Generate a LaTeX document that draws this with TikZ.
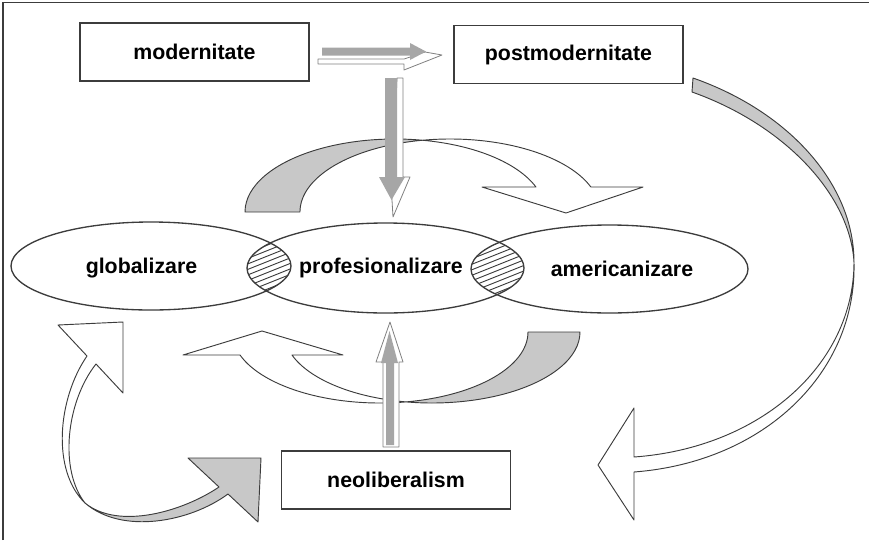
\documentclass[tikz,border=0pt]{standalone}
\usepackage{fontspec}
\setsansfont{Liberation Sans}
\usetikzlibrary{shapes.geometric}
\definecolor{backgrey}{RGB}{200,200,200}
\definecolor{shaftgrey}{RGB}{166,166,166}
\definecolor{edgegrey}{RGB}{60,60,60}
\begin{document}
\begin{tikzpicture}[x=0.75pt,y=0.75pt,yscale=-1,xscale=1,
  lbl/.style={inner sep=0.75pt, font=\sffamily\bfseries\fontsize{16}{19}\selectfont},
  box/.style={lbl, draw=edgegrey, line width=1.1pt, minimum width=171.75pt, minimum height=43.5pt},
  oval/.style={ellipse, draw=edgegrey, line width=1pt, inner sep=0pt},
  band/.style={draw=edgegrey, line width=0.7pt, line join=round},
  side/.style={fill=white, draw=gray, line width=0.6pt, line join=round},
  hatch/.style={edgegrey, line width=0.7pt}]
\useasboundingbox (0,0) rectangle (869,540);

%Frame
\draw[edgegrey, line width=1pt] (3,540) -- (3,2.5) -- (869,2.5);

%Shape: Curved Down Arrow (top)
\draw[band, fill=backgrey] (245,212) arc[start angle=180, end angle=280.56, x radius=150, y radius=73]
  arc[start angle=259.44, end angle=180, x radius=150, y radius=73] -- cycle;
\draw[band, fill=white] (422.5,140.24) arc[start angle=280.56, end angle=339.97, x radius=150, y radius=73]
  -- (482,187) -- (566,213) -- (643,187) -- (590.9,187)
  arc[start angle=339.97, end angle=259.44, x radius=150, y radius=73] -- cycle;

%Shape: Curved Up Arrow (bottom)
\draw[band, fill=backgrey] (580,332) arc[start angle=0, end angle=100.12, x radius=148, y radius=71]
  arc[start angle=79.88, end angle=0, x radius=148, y radius=71] -- cycle;
\draw[band, fill=white] (406,401.9) arc[start angle=100.12, end angle=161.1, x radius=148, y radius=71]
  -- (343,355) -- (262,331) -- (183,355) -- (240,355)
  arc[start angle=161.1, end angle=79.88, x radius=148, y radius=71] -- cycle;

%Shape: Curved Arrow (right)
\draw[band, fill=backgrey] (693,78) .. controls (790,112) and (854,185) .. (854,262)
  .. controls (850,195) and (785,125) .. (692,92) -- cycle;
\draw[band, fill=white] (854,262) .. controls (854,365) and (760,448) .. (634,457)
  -- (634,408) -- (598,465) -- (634,520) -- (634,472)
  .. controls (765,462) and (857,372) .. (854,262) -- cycle;

%Shape: Curved Arrow (left)
\draw[band, fill=white] (85,503) .. controls (51,470) and (58,398) .. (87,356)
  -- (58,325) -- (123,322) -- (123,393) -- (96,364)
  .. controls (66,402) and (59,470) .. (85,503) -- cycle;
\draw[band, fill=backgrey] (85,503) .. controls (118,530) and (182,512) .. (219,487)
  -- (188,458) -- (261,458) -- (258,522) -- (228,494)
  .. controls (190,522) and (122,535) .. (85,503) -- cycle;

%Shape: Ellipses
\node[oval, minimum width=210pt, minimum height=66pt] (glob) at (151,266) {};
\node[oval, minimum width=207.75pt, minimum height=67.5pt] (prof) at (385.5,268) {};
\node[oval, minimum width=207.75pt, minimum height=66pt] (amer) at (609.5,269) {};

%Hatch: overlaps
\begin{scope}
  \clip (151,266) ellipse [x radius=140, y radius=44];
  \clip (385.5,268) ellipse [x radius=138.5, y radius=45];
  \foreach \k in {0,...,18}
    \draw[hatch] (235,236+5.5*\k) -- ++(70,-28);
\end{scope}
\begin{scope}
  \clip (385.5,268) ellipse [x radius=138.5, y radius=45];
  \clip (609.5,269) ellipse [x radius=138.5, y radius=44];
  \foreach \k in {0,...,19}
    \draw[hatch] (460,236+5.5*\k) -- ++(75,-30);
\end{scope}

% Text Node
\node[lbl] (globtext) at (141.5,268) {globalizare};
\node[lbl] (proftext) at (381,268) {profesionalizare};
\node[lbl] (amertext) at (622,269) {americanizare};

%Shape: Rectangles
\node[box] (modern) at (194.5,52) {modernitate};
\node[box] (postmod) at (568.5,54.5) {postmodernitate};
\node[box] (neolib) at (396,480) {neoliberalism};

%Shape: Right Arrow (3D)
\draw[side] (318,59) -- (404,59) -- (425,52) -- (442,55) -- (404,70) -- (404,64) -- (318,64) -- cycle;
\fill[shaftgrey] (322,47.5) -- (410,47.5) -- (410,43) -- (426,51.5) -- (410,60) -- (410,55.5) -- (322,55.5) -- cycle;

%Shape: Down Arrow (3D)
\draw[side] (397,78) -- (403,78) -- (403,177) -- (410,177) -- (393,217) -- (392,200) -- cycle;
\fill[shaftgrey] (385,78) -- (397,78) -- (397,177) -- (405,177) -- (391.5,200) -- (379,177) -- (385,177) -- cycle;

%Shape: Up Arrow (3D)
\draw[side] (383,447) -- (383,362) -- (376,362) -- (390,322) -- (403,362) -- (399,362) -- (399,447) -- cycle;
\fill[shaftgrey] (386,445) -- (386,363) -- (381,363) -- (389.5,331) -- (398,363) -- (394,363) -- (394,445) -- cycle;

\end{tikzpicture}
\end{document}
